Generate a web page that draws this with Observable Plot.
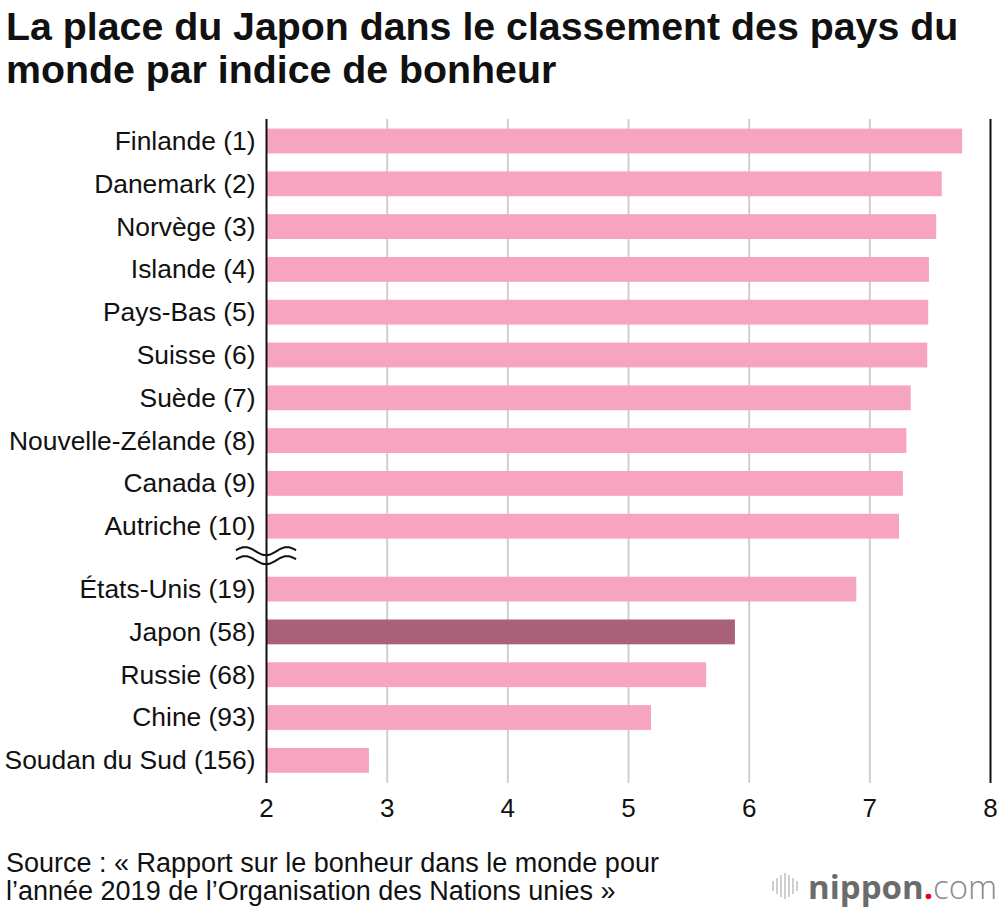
<!DOCTYPE html>
<html><head><meta charset="utf-8">
<script src="https://cdn.jsdelivr.net/npm/d3@7"></script>
<script src="https://cdn.jsdelivr.net/npm/@observablehq/plot@0.6"></script>
<style>
body{margin:0;background:#fff;font-family:"Liberation Sans",Arial,Helvetica,sans-serif;color:#111;}
#wrap{position:relative;width:1000px;height:912px;overflow:hidden;background:#fff;}
#title{position:absolute;left:6px;top:5px;font-size:39.3px;font-weight:bold;line-height:43px;width:994px;white-space:nowrap;}
#chart{position:absolute;left:0;top:100px;}
#source{position:absolute;left:6px;top:849px;font-size:27px;line-height:28px;white-space:nowrap;}
#logo{position:absolute;left:772px;top:866px;height:40px;display:flex;align-items:center;font-family:"Open Sans",sans-serif;font-size:33px;}
#logo .icon{display:flex;align-items:center;gap:2px;margin-right:10px;}
#logo .icon span{display:block;width:2px;background:#cfcfcf;}
#logo .n{font-weight:700;color:#6b6b6b;}
#logo .d{font-weight:700;color:#e60012;}
#logo .c{font-weight:300;color:#8a8a8a;}
</style></head>
<body>
<div id="wrap">
  <div id="title">La place du Japon dans le classement des pays du<br>monde par indice de bonheur</div>
  <div id="chart"></div>
  <div id="source">Source : « Rapport sur le bonheur dans le monde pour<br>l’année 2019 de l’Organisation des Nations unies »</div>
  <div id="logo"><div class="icon"></div><span class="n">nippon</span><span class="d">.</span><span class="c">com</span></div>
</div>
<script>
const countries = ["Finlande","Danemark","Norvège","Islande","Pays-Bas","Suisse","Suède","Nouvelle-Zélande","Canada","Autriche","États-Unis","Japon","Russie","Chine","Soudan du Sud"];
const ranks = [1,2,3,4,5,6,7,8,9,10,19,58,68,93,156];
const scores = [7.769,7.600,7.554,7.494,7.488,7.480,7.343,7.307,7.278,7.246,6.892,5.886,5.648,5.191,2.853];
const highlight = "Japon";
const xTicks = [2,3,4,5,6,7,8];

// layout constants
const rowsBeforeBreak = 10;
const breakGap = 0.47;
const barHalf = 0.29;

const data = countries.map((c, i) => ({
  country: c,
  rank: ranks[i],
  score: scores[i],
  pos: i + (i >= rowsBeforeBreak ? breakGap : 0),
  label: `${c} (${ranks[i]})`
}));
const labelByPos = new Map(data.map(d => [d.pos, d.label]));
const xMin = xTicks[0], xMax = xTicks[xTicks.length - 1];

const chart = Plot.plot({
  width: 1000,
  height: 730,
  marginTop: 19,
  marginBottom: 47,
  marginLeft: 266,
  marginRight: 10,
  style: {fontFamily: '"Liberation Sans", Arial, sans-serif', fontSize: "26px", color: "#111", background: "#fff"},
  x: {domain: [xMin, xMax]},
  y: {domain: [-0.514, data[data.length - 1].pos + 0.53], reverse: true},
  marks: [
    Plot.ruleX(xTicks.slice(1, -1), {stroke: "#cfcfcf", strokeWidth: 2}),
    Plot.rectX(data, {
      x1: () => xMin,
      x2: "score",
      y1: d => d.pos - barHalf,
      y2: d => d.pos + barHalf,
      fill: d => d.country === highlight ? "#a96079" : "#f7a4c1"
    }),
    Plot.ruleX([xMin, xMax], {stroke: "#111", strokeWidth: 2}),
    Plot.axisX({ticks: xTicks, tickFormat: d => String(d), tickSize: 0, tickPadding: 15, fontSize: 26, label: null}),
    Plot.axisY({ticks: data.map(d => d.pos), tickFormat: p => labelByPos.get(p), tickSize: 0, tickPadding: 11, fontSize: 26.4, label: null})
  ]
});
document.getElementById("chart").appendChild(chart);

// axis break symbol (decoration), positioned through the scales
const sx = chart.scale("x"), sy = chart.scale("y");
const bx = sx.apply(xMin);
const by = sy.apply((data[rowsBeforeBreak - 1].pos + data[rowsBeforeBreak].pos) / 2) - 2;
const svg = d3.select(chart);
[-4.5, 4.5].forEach(off => {
  const pts = d3.range(-30, 30.5, 1).map(t => [bx + t, by + off - 4 * Math.cos(2 * Math.PI * t / 42 + Math.PI)]);
  svg.append("path").attr("d", d3.line().curve(d3.curveBasis)(pts))
    .attr("fill", "none").attr("stroke", "#111").attr("stroke-width", 2);
});

// logo icon bars
const icon = document.querySelector("#logo .icon");
[10, 16, 22, 26, 22, 16, 10].forEach(h => {
  const s = document.createElement("span");
  s.style.height = h + "px";
  icon.appendChild(s);
});
</script>
</body></html>
